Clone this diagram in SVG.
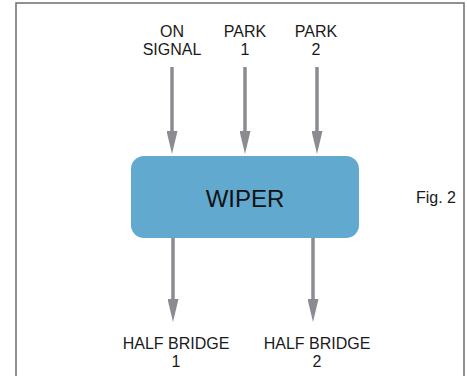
<svg xmlns="http://www.w3.org/2000/svg" width="467" height="376" viewBox="0 0 467 376">
  <defs>
    <!-- shared arrowhead, starts where the shaft ends -->
    <marker id="arrow" markerUnits="userSpaceOnUse" markerWidth="23" markerHeight="11" refX="1" refY="5.5" orient="auto" viewBox="0 0 23 11">
      <path d="M0,0 L23,5.5 L0,11 Z" fill="#8b8c91"/>
    </marker>
  </defs>
  <style>
    .lbl { font-family: "Liberation Sans", Arial, sans-serif; font-size: 16px; fill: #1a1a1a; text-anchor: middle; }
    .wire { stroke: #8b8c91; stroke-width: 3.5; fill: none; marker-end: url(#arrow); }
  </style>
  <rect width="467" height="376" fill="#ffffff"/>
  <!-- outer frame -->
  <path d="M16,378 V3 H464 V378" fill="none" stroke="#6e6e6e" stroke-width="1.5"/>

  <g id="connectors">
    <line class="wire" x1="172" y1="67" x2="172" y2="132"/>
    <line class="wire" x1="245" y1="67" x2="245" y2="132"/>
    <line class="wire" x1="317" y1="67" x2="317" y2="132"/>
    <line class="wire" x1="173" y1="238" x2="173" y2="300"/>
    <line class="wire" x1="313" y1="238" x2="313" y2="300"/>
  </g>

  <g id="on-signal">
    <text class="lbl" x="172" y="37">ON</text>
    <text class="lbl" x="172" y="55">SIGNAL</text>
  </g>
  <g id="park-1">
    <text class="lbl" x="245" y="37">PARK</text>
    <text class="lbl" x="245" y="55">1</text>
  </g>
  <g id="park-2">
    <text class="lbl" x="316" y="37">PARK</text>
    <text class="lbl" x="316" y="55">2</text>
  </g>

  <g id="wiper">
    <rect x="131" y="156" width="228" height="82" rx="13" ry="13" fill="#62a9d0"/>
    <text x="245" y="207" font-family="'Liberation Sans', Arial, sans-serif" font-size="24" fill="#111111" text-anchor="middle">WIPER</text>
  </g>

  <g id="fig-label">
    <text class="lbl" x="436" y="203">Fig. 2</text>
  </g>

  <g id="half-bridge-1">
    <text class="lbl" x="176" y="349">HALF BRIDGE</text>
    <text class="lbl" x="176" y="367">1</text>
  </g>
  <g id="half-bridge-2">
    <text class="lbl" x="317" y="349">HALF BRIDGE</text>
    <text class="lbl" x="317" y="367">2</text>
  </g>
</svg>
